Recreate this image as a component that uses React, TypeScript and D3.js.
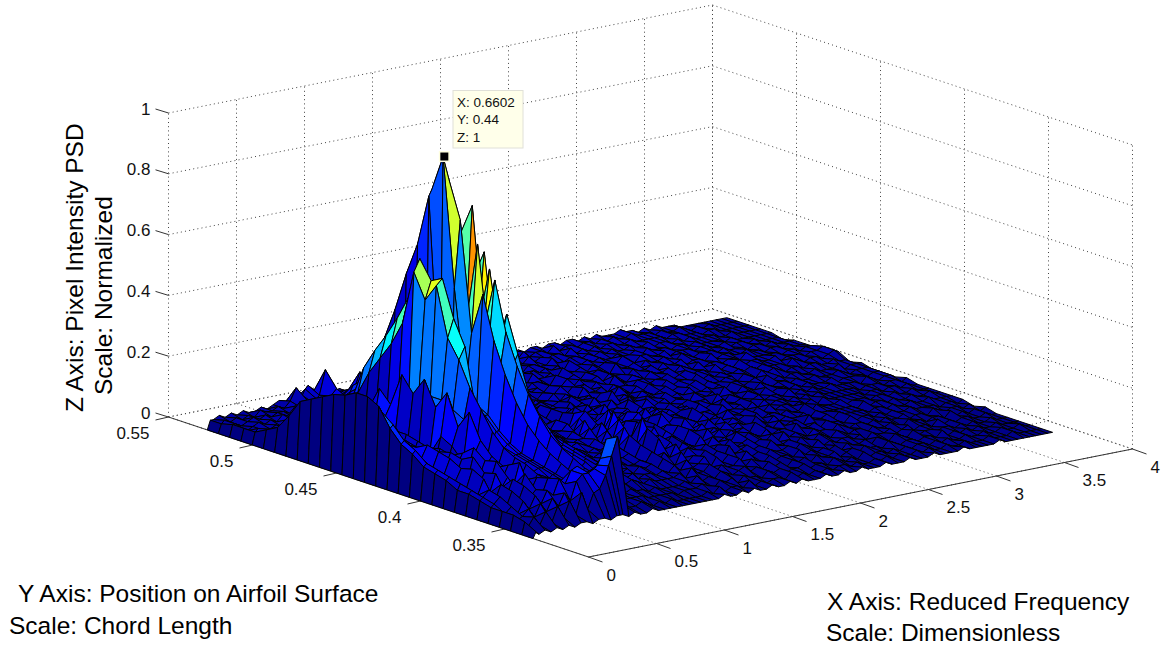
import React from 'react';
import * as d3 from 'd3';

const xTicks = [0, 0.5, 1, 1.5, 2, 2.5, 3, 3.5, 4];
const yTicks = [0.35, 0.4, 0.45, 0.5, 0.55];
const zTicks = [0, 0.2, 0.4, 0.6, 0.8, 1];
const xTickLabels = ['0', '0.5', '1', '1.5', '2', '2.5', '3', '3.5', '4'];
const yTickLabels = ['0.35', '0.4', '0.45', '0.5', '0.55'];
const zTickLabels = ['0', '0.2', '0.4', '0.6', '0.8', '1'];

const xColumns = [
  0, 0.022, 0.044, 0.088, 0.132, 0.176, 0.22, 0.264, 0.308, 0.352, 0.396, 0.44, 0.484, 0.528, 0.572, 0.616, 0.638,
  0.6602, 0.704, 0.748, 0.792, 0.836, 0.88, 0.924, 0.968, 1.012, 1.056, 1.1, 1.144, 1.188, 1.232, 1.276, 1.32,
  1.364, 1.408, 1.452, 1.496, 1.54, 1.584, 1.628, 1.672, 1.716, 1.76,
  1.804, 1.848, 1.892, 1.936, 1.98, 2.024, 2.068, 2.112, 2.156, 2.2,
  2.244, 2.288, 2.332, 2.376, 2.42, 2.464, 2.508, 2.552, 2.596, 2.64,
  2.684, 2.728, 2.772, 2.816, 2.86, 2.904, 2.948, 2.992, 3.036, 3.08,
  3.124, 3.168, 3.212, 3.256, 3.3, 3.344, 3.388, 3.432, 3.476, 3.52,
  3.564, 3.608, 3.652, 3.696, 3.74, 3.784, 3.82,
];
const yRows = [
  0.333, 0.3397, 0.3464, 0.3531, 0.3598, 0.3664, 0.3731, 0.3798, 0.3865, 0.3932, 0.3999, 0.4066, 0.4133, 0.4199, 0.4266,
  0.4333, 0.44, 0.4467, 0.4534, 0.4601, 0.4668, 0.4734, 0.4801, 0.4868, 0.4935, 0.5002, 0.5069, 0.5136, 0.5203, 0.5269,
];

// z in hundredths, one line per y row (front to back), one value per x column
const zRows = [
  [0,2,1,2,1,2,1,2,1,2,2,1,2,2,1,2,2, 2,1,2,1,1,2,1,1,1,1,1,1,1,1,1,1, 1,2,1,1,2,1,2,1,1,2, 1,1,2,1,2,1,1,1,2,1, 1,2,1,1,2,1,1,1,2,1, 1,1,2,1,1,1,2,1,1,1, 1,2,1,1,1,1,1,2,1,1, 1,1,1,1,1,1,1],
  [0,4,2,5,2,6,2,7,3,8,3,10,4,9,10,14,17, 20,26,3,2,2,3,2,1,2,1,2,1,1,1,1,1, 2,1,3,1,2,2,1,3,1,2, 1,2,2,1,3,1,2,1,2,1, 2,1,2,2,1,2,1,1,2,1, 2,1,2,1,1,2,1,2,1,1, 2,1,1,2,1,1,1,2,1,1, 1,2,1,1,1,1,1],
  [0,5,3,4,6,3,7,4,8,5,9,6,12,14,14,15,16, 18,24,4,4,3,3,3,3,2,2,2,2,2,1,2,2, 2,3,2,1,3,2,3,1,3,2, 2,1,3,2,3,1,2,2,3,1, 2,2,1,3,2,1,2,1,3,1, 2,2,1,2,1,2,1,2,2,1, 2,1,2,1,1,2,1,1,2,1, 1,2,1,1,2,1,1],
  [0,5,4,6,3,7,4,8,5,9,7,12,10,14,15,12,12, 10,9,5,6,4,4,3,4,3,3,2,3,2,2,2,2, 3,2,4,2,3,2,4,3,2,3, 4,2,3,2,4,2,3,1,3,2, 3,1,3,2,2,3,1,2,3,1, 3,2,2,1,3,2,1,2,2,1, 2,2,1,3,1,2,1,2,1,2, 1,1,2,1,1,1,1],
  [0,5,6,8,4,9,5,10,6,8,6,11,6,9,6,7,6, 6,8,6,9,6,7,5,6,4,5,4,3,4,3,3,3, 3,4,2,5,3,3,5,2,4,3, 3,5,2,4,3,2,4,2,3,3, 2,4,2,3,2,3,2,3,1,3, 2,2,3,1,3,2,1,3,2,1, 3,1,2,2,1,2,2,1,2,1, 2,1,1,2,1,1,1],
  [0,6,7,9,5,10,6,11,6,12,6,10,7,8,7,6,7, 7,9,7,10,7,8,5,7,5,6,4,5,3,4,4,3, 4,3,5,3,6,3,4,6,2,5, 3,5,3,2,5,3,4,2,4,3, 3,4,2,4,3,2,4,2,3,2, 3,3,2,3,1,3,2,2,3,1, 2,3,1,2,2,1,3,1,2,1, 2,2,1,1,2,1,1],
  [0,7,8,6,11,6,12,7,10,7,14,8,6,9,8,7,8, 8,11,8,12,8,10,6,8,6,7,5,4,5,3,5,4, 5,3,6,4,3,7,3,5,4,6, 3,5,2,6,3,4,5,3,4,2, 5,3,3,4,2,4,3,2,4,3, 2,4,3,2,3,3,1,3,2,2, 3,2,1,3,2,2,1,2,2,1, 3,1,2,1,2,1,2],
  [0,7,9,7,13,7,11,8,14,8,12,9,7,11,8,9,9, 9,13,9,14,10,11,8,9,6,7,5,6,4,5,4,4, 5,4,7,3,6,4,8,3,6,5, 4,6,3,5,4,6,3,4,5,3, 4,3,5,2,5,3,4,3,2,4, 3,3,2,4,3,2,3,3,2,3, 2,3,2,2,3,1,2,2,1,3, 2,1,2,2,1,2,1],
  [0,9,10,8,12,7,15,8,13,8,10,10,7,12,9,10,10, 10,16,11,17,12,12,9,10,7,8,6,5,6,4,5,5, 6,4,8,5,3,9,5,7,3,6, 5,4,7,3,6,4,5,3,6,3, 5,4,3,5,3,4,4,2,5,3, 3,4,2,4,3,3,2,4,2,3, 3,2,3,2,3,2,2,3,2,2, 2,2,1,2,2,1,2],
  [0,10,11,9,14,8,13,9,16,9,9,12,8,14,10,11,11, 11,20,14,22,15,16,11,11,8,9,7,6,5,6,5,4, 7,5,10,6,4,11,6,8,4,7, 6,4,8,5,3,7,4,6,3,5, 4,5,3,6,3,4,3,5,3,4, 4,2,5,3,3,4,2,4,3,3, 3,3,2,3,3,2,3,2,2,3, 2,2,3,2,2,2,2],
  [0,11,12,10,15,9,14,9,13,7,12,16,9,18,12,12,13, 13,26,19,28,20,20,14,13,9,10,7,7,6,5,6,5, 6,8,5,11,7,4,13,6,9,4, 7,5,8,4,6,5,7,3,5,4, 6,3,5,4,3,6,4,3,5,3, 4,3,3,4,2,4,3,3,3,3, 3,3,2,4,2,3,3,2,3,2, 2,3,2,2,3,2,2],
  [0,14,15,12,16,10,13,8,11,6,8,24,11,24,15,14,16, 16,34,24,36,26,26,17,14,10,11,8,7,6,7,6,5, 7,5,9,6,12,7,5,10,8,4, 8,5,7,6,4,8,4,6,3,6, 4,6,3,5,4,5,3,5,3,4, 4,3,4,3,3,5,2,4,3,3, 3,4,2,3,3,3,2,3,3,2, 3,2,2,3,2,2,2],
  [0,16,17,15,14,8,13,6,12,5,12,18,20,30,22,16,20, 20,44,34,46,34,38,28,22,11,11,9,7,8,6,5,6, 6,9,5,10,7,13,5,9,6,4, 8,6,4,9,5,7,4,6,5,4, 6,4,5,3,6,4,4,5,3,5, 3,5,3,4,4,3,4,3,4,2, 4,3,3,3,3,3,3,2,3,3, 2,3,3,2,3,2,2],
  [0,20,21,17,14,8,12,7,11,6,14,28,22,38,42,18,22, 22,58,42,62,40,50,32,24,18,12,9,8,7,7,6,5, 7,5,10,6,8,5,12,6,8,5, 7,9,4,7,5,8,4,6,5,3, 7,4,5,5,3,6,4,4,5,3, 5,3,5,3,4,4,3,4,3,4, 3,4,3,3,3,3,3,3,2,3, 3,3,2,3,3,2,3],
  [0,26,24,20,15,8,13,7,12,6,7,22,24,44,50,20,26, 26,44,73,44,64,36,46,24,13,13,10,8,8,6,7,6, 6,8,5,9,11,6,7,5,9,6, 5,8,6,4,8,5,7,4,6,4, 5,6,3,6,4,5,3,6,4,4, 5,3,4,5,3,4,4,3,5,3, 4,3,4,3,3,4,3,3,3,3, 2,4,3,2,3,3,2],
  [0,28,26,21,14,8,12,7,13,6,6,30,24,60,62,19,22, 58,80,46,84,44,68,34,48,22,14,10,9,7,8,6,7, 5,8,6,4,9,6,8,4,7,5, 8,4,6,7,4,7,4,6,5,4, 6,4,5,6,3,5,5,3,6,3, 5,4,3,5,4,3,5,3,4,4, 3,4,3,4,3,3,3,4,2,3, 3,3,3,2,3,3,2],
  [0,28,26,22,15,8,14,8,13,7,7,24,25,54,60,18,20, 100,92,40,74,30,58,24,40,15,13,11,9,8,7,8,6, 7,5,6,4,8,5,9,5,6,7, 4,8,5,6,4,8,5,4,7,4, 5,6,4,5,5,3,6,4,4,5, 3,6,4,3,5,4,3,5,4,3, 4,4,3,4,3,3,4,3,3,3, 4,3,2,3,3,3,2],
  [0,26,25,20,13,7,12,7,12,6,12,29,14,62,66,16,86, 88,70,36,58,28,40,21,24,13,11,10,8,7,7,6,6, 6,4,7,5,8,6,5,7,5,4, 7,5,6,4,7,5,4,7,5,4, 6,5,4,6,4,5,4,6,4,4, 5,4,5,3,5,5,3,4,5,3, 5,3,4,3,4,4,3,3,4,3, 3,3,4,2,3,3,3],
  [0,25,23,18,12,7,12,6,11,6,14,18,10,44,52,10,69, 71,56,30,44,24,30,18,18,12,11,9,8,8,6,6,6, 5,7,5,6,8,4,6,6,4,7, 5,6,4,7,5,4,8,4,6,5, 4,6,5,4,5,6,4,5,4,5, 6,3,5,4,4,5,5,3,5,4, 3,5,4,5,4,3,4,4,3,4, 4,3,3,4,3,3,2],
  [0,23,21,16,11,6,11,6,10,6,10,22,6,36,44,8,58, 60,44,26,32,22,24,15,14,11,10,8,8,7,6,7,5, 6,4,7,6,4,6,7,4,5,6, 4,7,5,5,6,4,6,5,4,7, 5,4,6,4,6,5,4,6,4,5, 5,4,6,4,5,4,5,4,4,5, 4,5,4,5,4,4,4,3,5,4, 3,4,4,3,4,5,4],
  [0,21,19,15,10,8,7,8,9,7,12,14,5,30,37,7,45, 47,36,22,26,20,18,13,11,10,9,8,7,6,7,5,6, 5,7,4,6,5,7,4,6,5,5, 7,4,6,5,4,7,5,5,6,4, 6,5,5,4,6,6,4,5,5,6, 4,5,6,4,5,5,4,6,4,5, 4,6,4,5,5,4,4,5,3,4, 4,4,3,4,4,5,4],
  [0,19,17,13,9,7,7,8,9,8,14,16,4,24,31,8,34, 36,28,20,20,16,14,11,10,8,8,7,6,7,5,6,5, 6,5,7,5,6,4,7,5,6,4, 6,5,5,7,4,6,5,6,4,6, 5,4,7,5,4,6,5,4,6,5, 5,6,4,6,5,4,6,4,5,5, 4,5,5,4,6,4,4,4,4,4, 3,4,4,3,4,4,3],
  [0,13,12,9,7,6,6,8,7,9,8,10,5,16,24,9,25, 27,22,18,14,13,12,9,9,8,7,6,7,5,6,5,5, 5,6,4,7,5,6,5,7,4,6, 5,6,4,6,5,5,7,4,6,5, 5,6,4,6,5,5,4,6,5,5, 6,4,6,5,5,6,4,5,5,4, 6,4,5,5,4,4,5,4,4,3, 4,4,3,4,3,3,3],
  [0,8,8,6,6,5,6,7,6,8,7,9,8,11,13,10,16, 18,15,13,10,11,9,8,7,7,6,5,6,5,4,5,4, 6,5,7,4,6,5,6,4,7,5, 6,4,6,6,5,4,7,5,5,6, 4,6,5,6,5,4,7,5,5,6, 4,6,5,5,6,5,4,6,5,4, 5,5,5,4,5,4,4,4,3,4, 4,3,4,3,3,3,3],
  [0,6,6,5,5,4,6,5,6,7,6,8,7,9,10,9,13, 15,13,11,9,10,8,7,8,6,5,6,5,4,5,4,5, 5,6,5,6,4,7,5,6,4,6, 5,6,5,4,7,5,5,6,4,7, 5,5,6,4,6,5,6,5,5,7, 5,4,6,6,5,5,6,4,5,5, 5,4,5,5,4,4,5,3,4,4, 3,4,3,3,3,3,2],
  [0,4,5,4,4,5,4,6,5,5,6,7,6,8,9,8,9, 10,9,11,17,8,7,6,7,5,6,5,4,5,4,5,4, 6,4,6,5,7,5,5,6,4,6, 6,5,7,4,6,5,6,5,6,5, 6,4,7,5,5,6,5,6,5,5, 6,5,5,6,4,6,5,5,5,4, 5,5,4,5,4,4,4,4,3,4, 3,3,3,3,3,3,3],
  [0,4,3,4,5,4,5,4,6,5,4,6,5,7,6,8,8, 9,11,8,10,7,6,7,5,6,5,4,6,5,4,5,4, 5,6,4,7,5,6,5,4,7,5, 6,5,5,6,5,7,4,6,6,5, 5,7,5,5,6,6,5,6,5,6, 5,6,5,5,6,5,5,6,4,5, 5,4,5,4,5,4,4,4,4,3, 3,4,3,3,3,3,3],
  [0,4,4,3,4,5,4,5,4,5,5,4,6,5,7,6,7, 8,16,7,6,5,6,8,5,5,4,6,5,4,5,4,4, 4,6,5,6,4,7,5,6,5,5, 6,4,7,5,6,5,6,5,5,7, 5,6,5,6,6,5,7,5,6,5, 6,5,6,6,5,5,6,5,5,5, 5,5,4,5,5,4,4,4,3,4, 4,3,3,3,3,3,3],
  [0,3,4,3,4,3,4,3,5,4,4,5,4,6,10,7,9, 10,8,6,5,4,5,6,5,4,5,4,6,5,4,4,5, 5,5,6,4,7,5,5,6,5,6, 5,7,5,6,5,6,6,5,6,5, 7,5,6,6,5,7,5,6,6,5, 6,6,5,6,5,6,5,5,6,5, 5,5,4,5,4,4,5,4,3,4, 3,4,3,3,3,3,3],
  [0,3,3,4,3,4,3,4,3,3,4,3,4,5,4,5,4, 4,6,5,4,5,6,4,5,4,4,5,4,3,4,5,4, 4,5,5,4,6,5,5,6,5,5, 6,5,5,6,5,6,6,5,6,5, 6,6,5,6,6,5,6,6,5,6, 6,5,6,5,6,5,5,5,6,5, 5,4,5,4,5,4,4,4,3,3, 3,3,3,3,3,3,3],
];

const width = 1165;
const height = 648;

// oblique projection of the 3d box
const xToPx = d3.scaleLinear().domain([0, 4]).range([0, 544]);
const xToPy = d3.scaleLinear().domain([0, 4]).range([0, -108]);
const yToPx = d3.scaleLinear().domain([0.3, 0.55]).range([588.5, 168.5]);
const yToPy = d3.scaleLinear().domain([0.3, 0.55]).range([557, 417]);
const zToPy = d3.scaleLinear().domain([0, 1]).range([0, -304]);

const project = (x: number, y: number, z: number): [number, number] => [
  xToPx(x) + yToPx(y),
  xToPy(x) + yToPy(y) + zToPy(z),
];

// jet colormap
const jet = d3
  .scaleLinear<string>()
  .domain([0, 0.125, 0.375, 0.625, 0.875, 1])
  .range(['#000080', '#0000ff', '#00ffff', '#ffff00', '#ff0000', '#800000']);

const line = d3.line();
const font = '"Liberation Sans", Arial, sans-serif';

function seg(a: [number, number, number], b: [number, number, number]) {
  return line([project(...a), project(...b)]) as string;
}

export default function App() {
  const gridPaths: string[] = [];
  const xMax = 4;
  const yMin = 0.3;
  const yMax = 0.55;

  xTicks.forEach((x) => {
    gridPaths.push(seg([x, yMin, 0], [x, yMax, 0]));
    gridPaths.push(seg([x, yMax, 0], [x, yMax, 1]));
  });
  [yMin, ...yTicks].forEach((y) => {
    gridPaths.push(seg([0, y, 0], [xMax, y, 0]));
    gridPaths.push(seg([xMax, y, 0], [xMax, y, 1]));
  });
  zTicks.forEach((z) => {
    gridPaths.push(seg([0, yMax, z], [xMax, yMax, z]));
    gridPaths.push(seg([xMax, yMax, z], [xMax, yMin, z]));
  });

  // far cells first, the camera sits at low x and low y
  const cells: { d: string; fill: string }[] = [];
  for (let k = yRows.length - 2; k >= 0; k--) {
    for (let i = xColumns.length - 2; i >= 0; i--) {
      const pts = [
        project(xColumns[i], yRows[k], zRows[k][i] / 100),
        project(xColumns[i + 1], yRows[k], zRows[k][i + 1] / 100),
        project(xColumns[i + 1], yRows[k + 1], zRows[k + 1][i + 1] / 100),
        project(xColumns[i], yRows[k + 1], zRows[k + 1][i] / 100),
      ];
      cells.push({ d: line(pts) + 'Z', fill: jet(zRows[k][i] / 100) });
    }
  }

  const peak = project(0.6602, 0.44, 1);

  return (
    <svg
      width={width}
      height={height}
      style={{ position: 'absolute', left: 0, top: 0, background: '#fff' }}
      fontFamily={font}
    >
      <g fill="none" stroke="#444" strokeWidth={1} strokeDasharray="1 3.2">
        {gridPaths.map((d, i) => (
          <path key={i} d={d} />
        ))}
      </g>

      <g fill="none" stroke="#333" strokeWidth={1}>
        <path d={seg([0, yMin, 0], [xMax, yMin, 0])} />
        <path d={seg([0, yMin, 0], [0, yMax, 0])} />
        {xTicks.map((x) => {
          const [px, py] = project(x, yMin, 0);
          return <path key={x} d={`M${px},${py}l14,5`} />;
        })}
        {yTicks.map((y) => {
          const [px, py] = project(0, y, 0);
          return <path key={y} d={`M${px},${py}l-13,3`} />;
        })}
        {zTicks.map((z) => {
          const [px, py] = project(0, yMax, z);
          return <path key={z} d={`M${px},${py}l-13,-4`} />;
        })}
      </g>

      <g fontSize={17} fill="#111" dominantBaseline="central">
        {xTicks.map((x, i) => {
          const [px, py] = project(x, yMin, 0);
          return (
            <text key={x} x={px + 18} y={py + 18}>
              {xTickLabels[i]}
            </text>
          );
        })}
        {yTicks.map((y, i) => {
          const [px, py] = project(0, y, 0);
          return (
            <text key={y} x={px - 19} y={py + 16} textAnchor="end">
              {yTickLabels[i]}
            </text>
          );
        })}
        {zTicks.map((z, i) => {
          const [px, py] = project(0, yMax, z);
          return (
            <text key={z} x={px - 18} y={py - 4} textAnchor="end">
              {zTickLabels[i]}
            </text>
          );
        })}
      </g>

      <g stroke="#000" strokeWidth={1} strokeLinejoin="round">
        {cells.map((c, i) => (
          <path key={i} d={c.d} fill={c.fill} />
        ))}
      </g>

      <rect
        x={peak[0] - 3.5}
        y={peak[1] - 5}
        width={9.5}
        height={9.5}
        fill="#000"
        stroke="#ffffe0"
        strokeWidth={1.5}
      />
      <rect x={453} y={90.5} width={70} height={57.5} fill="#ffffea" stroke="#e0e0d8" />
      <g fontSize={13.5} fill="#111">
        <text x={457} y={107}>X: 0.6602</text>
        <text x={457} y={124}>Y: 0.44</text>
        <text x={457} y={142}>Z: 1</text>
      </g>

      <g fontSize={24.5} fill="#000">
        <text transform="translate(83,412) rotate(-90)">Z Axis: Pixel Intensity PSD</text>
        <text transform="translate(112,395) rotate(-90)">Scale: Normalized</text>
        <text x={18} y={602}>Y Axis: Position on Airfoil Surface</text>
        <text x={9} y={634}>Scale: Chord Length</text>
        <text x={827} y={610}>X Axis: Reduced Frequency</text>
        <text x={826} y={641}>Scale: Dimensionless</text>
      </g>
    </svg>
  );
}
